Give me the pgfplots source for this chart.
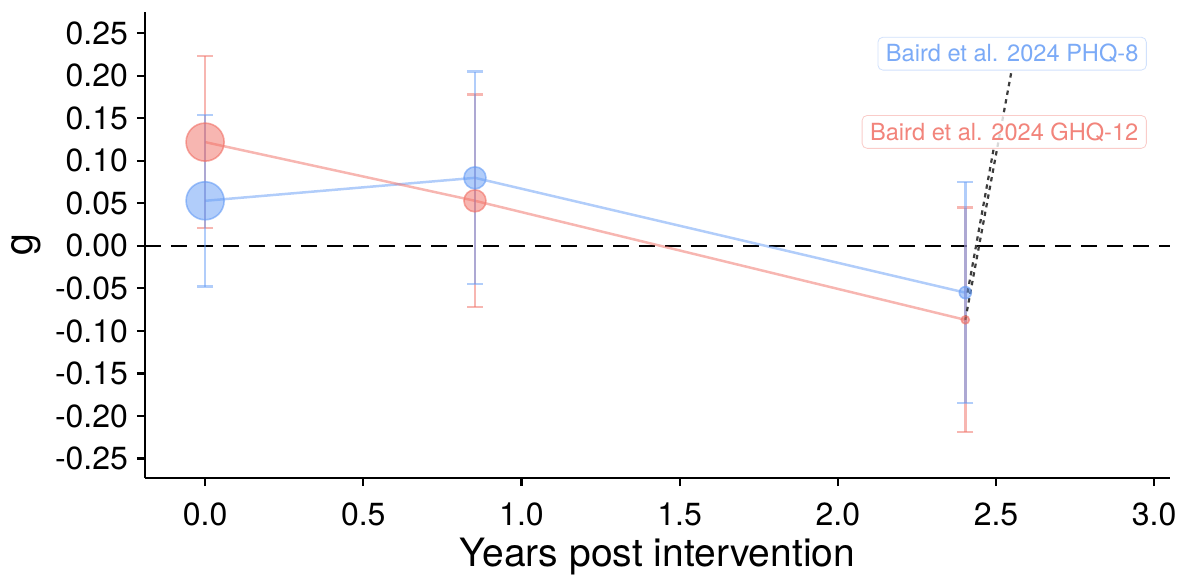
\documentclass[border=0pt]{standalone}
\usepackage{fontspec}
\setmainfont{TeX Gyre Heros}
\usepackage{pgfplots}
\pgfplotsset{compat=1.18}
\usepackage{pgfplotstable}
\definecolor{cblue}{RGB}{100,155,245}
\definecolor{cred}{RGB}{240,110,100}
\definecolor{cdot}{RGB}{60,60,60}

\pgfplotstableread{
x y e r
0.0 0.053 0.101 9.5
0.853 0.080 0.125 5.5
2.403 -0.055 0.130 3
}\phq
\pgfplotstableread{
x y e r
0.0 0.122 0.101 9.5
0.853 0.053 0.125 5.5
2.403 -0.087 0.132 2
}\ghq

\begin{document}
\begin{tikzpicture}
\begin{axis}[name=ax, scale only axis, width=512.5pt, height=233pt,
  xmin=-0.19, xmax=3.05, ymin=-0.273, ymax=0.275,
  axis lines=left, axis line style={line width=1.25pt, -},
  tick align=outside, major tick length=4pt, tick style={line width=1.1pt, black},
  xtick={0,0.5,1,1.5,2,2.5,3},
  xticklabels={0.0,0.5,1.0,1.5,2.0,2.5,3.0},
  ytick={-0.25,-0.2,-0.15,-0.1,-0.05,0,0.05,0.1,0.15,0.2,0.25},
  yticklabels={-0.25,-0.20,-0.15,-0.10,-0.05,0.00,0.05,0.10,0.15,0.20,0.25},
  ticklabel style={font=\fontsize{16}{19}\selectfont},
  xticklabel style={yshift=-5pt},
  yticklabel style={xshift=-1pt},
  xlabel={Years post intervention}, ylabel={g},
  label style={font=\fontsize{19.5}{22}\selectfont},
  xlabel style={yshift=1pt},
  clip=false]
\addplot[black, line width=1.25pt, dash pattern=on 8pt off 5pt, forget plot] coordinates {(-0.19,0) (3.05,0)};
\addplot[cblue, opacity=0.5, line width=1.25pt, mark=none] table[x=x,y=y]{\phq};
\addplot[cred, opacity=0.5, line width=1.25pt, mark=none] table[x=x,y=y]{\ghq};
\addplot[draw=none, mark=none, error bars/.cd, y dir=both, y explicit,
  error bar style={draw=cred, draw opacity=0.5, line width=1.25pt},
  error mark options={draw=cred, draw opacity=0.5, mark size=4pt, line width=1.25pt, rotate=90}]
  table[x=x,y=y,y error=e]{\ghq};
\addplot[draw=none, mark=none, error bars/.cd, y dir=both, y explicit,
  error bar style={draw=cblue, draw opacity=0.5, line width=1.25pt},
  error mark options={draw=cblue, draw opacity=0.5, mark size=4pt, line width=1.25pt, rotate=90}]
  table[x=x,y=y,y error=e]{\phq};
\addplot[scatter, only marks, mark=*, scatter/use mapped color={draw=cred, fill=cred},
  fill opacity=0.5, draw opacity=0.6, line width=0.8pt,
  visualization depends on={\thisrow{r}\as\rad},
  scatter/@pre marker code/.append style={/tikz/mark size=\rad}] table[x=x,y=y]{\ghq};
\addplot[scatter, only marks, mark=*, scatter/use mapped color={draw=cblue, fill=cblue},
  fill opacity=0.5, draw opacity=0.6, line width=0.8pt,
  visualization depends on={\thisrow{r}\as\rad},
  scatter/@pre marker code/.append style={/tikz/mark size=\rad}] table[x=x,y=y]{\phq};
\draw[cdot, line width=1.1pt, dash pattern=on 2.2pt off 2.2pt] (axis cs:2.403,-0.087) -- (axis cs:2.548,0.2035);
\draw[cdot, line width=1.1pt, dash pattern=on 2.2pt off 2.2pt] (axis cs:2.41,-0.055) -- (axis cs:2.492,0.113);
\node[draw=cred!35, rounded corners=2.5pt, fill=white, fill opacity=0.8, text opacity=1, text=cred!85, inner xsep=4pt, inner ysep=3.5pt, font=\fontsize{11.8}{13}\selectfont] at (axis cs:2.526,0.134) {Baird et al. 2024 GHQ-12};
\node[draw=cblue!30, rounded corners=2.5pt, fill=white, fill opacity=0.8, text opacity=1, text=cblue!85, inner xsep=4pt, inner ysep=3.5pt, font=\fontsize{11.8}{13}\selectfont] at (axis cs:2.551,0.226) {Baird et al. 2024 PHQ-8};
\end{axis}
\pgfresetboundingbox
\path ([xshift=-72.5pt,yshift=-49pt]ax.south west) rectangle ([xshift=3.5pt,yshift=6pt]ax.north east);
\end{tikzpicture}
\end{document}
